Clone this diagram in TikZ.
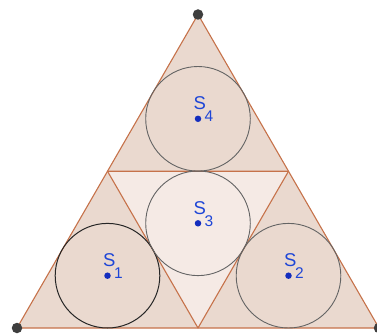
\documentclass[tikz,border=0pt]{standalone}
\usepackage{fontspec}
\setsansfont{Liberation Sans}
\usetikzlibrary{calc}
\definecolor{edge}{RGB}{198,114,74}
\definecolor{corner}{RGB}{234,217,207}
\definecolor{middle}{RGB}{245,234,229}
\definecolor{ring}{RGB}{100,100,100}
\definecolor{ctr}{RGB}{20,45,190}
\definecolor{lab}{RGB}{30,70,215}
\definecolor{vtx}{RGB}{62,62,62}
\newcommand{\slab}[1]{S\kern-1.5pt\raisebox{-12pt}{\fontsize{15.5}{15.5}\selectfont #1}}

\begin{document}
\begin{tikzpicture}[x=1pt, y=-1pt,
    triline/.style={draw=edge, line width=1.1pt, line join=round},
    ball/.style={draw=ring, line width=0.9pt},
    vert/.style={circle, fill=vtx, inner sep=0pt, minimum size=10.5pt},
    dot/.style={circle, fill=ctr, inner sep=0pt, minimum size=6.5pt},
    slabel/.style={anchor=base west, inner sep=0pt, text=lab, font=\sffamily\fontsize{18.5}{18.5}\selectfont},
]
\useasboundingbox (0,0) rectangle (377,334);
% big triangle and midpoints
\coordinate (A) at (17,328);
\coordinate (B) at (379,328);
\coordinate (C) at (198,14.5);
\coordinate (mAB) at ($(A)!0.5!(B)$);
\coordinate (mBC) at ($(B)!0.5!(C)$);
\coordinate (mCA) at ($(C)!0.5!(A)$);

% fills
\fill[corner] (A) -- (mAB) -- (mCA) -- cycle;
\fill[corner] (mAB) -- (B) -- (mBC) -- cycle;
\fill[corner] (mCA) -- (mBC) -- (C) -- cycle;
\fill[middle] (mAB) -- (mBC) -- (mCA) -- cycle;

% edges
\draw[triline] (A) -- (B) -- (C) -- cycle;
\draw[triline] (mAB) -- (mBC) -- (mCA) -- cycle;

% inscribed circles
\node[dot] (s1) at (107.5,275.7) {};
\node[dot] (s2) at (288.5,275.7) {};
\node[dot] (s3) at (198,223.3) {};
\node[dot] (s4) at (198,118.8) {};
\draw[ball, draw=black!85, line width=1pt] (s1) circle (52.3);
\draw[ball] (s2) circle (52.3);
\draw[ball] (s3) circle (52.3);
\draw[ball] (s4) circle (52.3);

% labels
\node[slabel] (l1) at ($(s1)+(-4.5,-9)$) {\slab{1}};
\node[slabel] (l2) at ($(s2)+(-4.5,-9)$) {\slab{2}};
\node[slabel] (l3) at ($(s3)+(-4.5,-9)$) {\slab{3}};
\node[slabel] (l4) at ($(s4)+(-4.5,-9)$) {\slab{4}};

% vertices
\node[vert] (pA) at (A) {};
\node[vert] (pB) at (B) {};
\node[vert] (pC) at (C) {};
\end{tikzpicture}
\end{document}
